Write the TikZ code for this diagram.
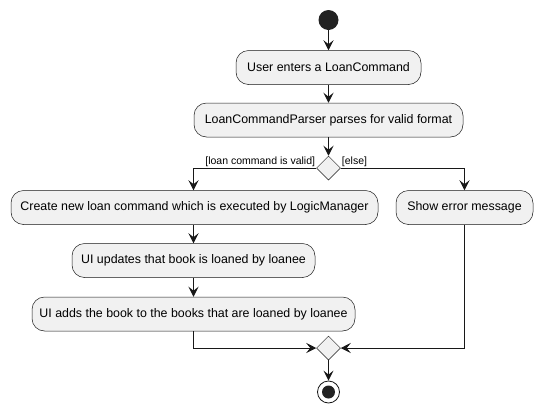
\documentclass[tikz,border=0pt]{standalone}
\usepackage{fontspec}
\setmainfont{Liberation Sans}
\usetikzlibrary{arrows.meta,shapes.geometric,calc}
\definecolor{boxfill}{HTML}{F1F1F1}
\definecolor{ink}{HTML}{181818}
\definecolor{dot}{HTML}{222222}
\begin{document}
\begin{tikzpicture}[x=1pt,y=-1pt,
  act/.style={draw=ink,fill=boxfill,line width=0.5pt,rounded corners=12.5pt,
    minimum height=34pt,inner sep=0pt,font=\fontsize{12.4}{14}\selectfont},
  dec/.style={draw=ink,fill=boxfill,line width=0.5pt,diamond,aspect=1,
    minimum width=24pt,minimum height=24pt,inner sep=0pt},
  flow/.style={draw=ink,line width=1pt,-{Stealth[length=10pt,width=10pt,inset=4pt]}},
  guard/.style={inner sep=0pt,font=\fontsize{10.5}{12}\selectfont}]
\useasboundingbox (0,0) rectangle (542,413);
\fill[white] (0,0) rectangle (542,413);
\node[circle,fill=dot,minimum size=20pt,inner sep=0pt] (start) at (328.5,20) {};
\node[act,minimum width=185pt] (b1) at (328.5,67.5) {User enters a LoanCommand};
\node[act,minimum width=269pt] (b2) at (328.5,120) {LoanCommandParser parses for valid format};
\node[dec] (d1) at (328.5,168) {};
\node[act,minimum width=367pt] (b3) at (194.5,207.5) {Create new loan command which is executed by LogicManager};
\node[act,minimum width=137pt] (err) at (464.5,207.5) {Show error message};
\node[act,minimum width=243pt] (b4) at (193.5,260.5) {UI updates that book is loaned by loanee};
\node[act,minimum width=323pt] (b5) at (193.5,314) {UI adds the book to the books that are loaned by loanee};
\node[dec] (d2) at (328.5,348) {};
\node[circle,draw=ink,fill=white,line width=0.8pt,minimum size=22pt,inner sep=0pt] (end) at (328.5,392) {};
\node[circle,fill=dot,minimum size=13pt,inner sep=0pt] (endin) at (end.center) {};
\node[guard,anchor=south east] (g1) at ($(d1.west)+(-1,-1)$) {[loan command is valid]};
\node[guard,anchor=south west] (g2) at ($(d1.east)+(1,-1)$) {[else]};
\draw[flow] (start) -- (b1);
\draw[flow] (b1) -- (b2);
\draw[flow] (b2) -- (d1);
\draw[flow] (d1.west) -| (b4.center |- b3.north);
\draw[flow] (d1.east) -| (err.north);
\draw[flow] (b3.south -| b4.north) -- (b4.north);
\draw[flow] (b4) -- (b5);
\draw[flow] (b5.south) |- (d2.west);
\draw[flow] (err.south) |- (d2.east);
\draw[flow] (d2) -- (end);
\end{tikzpicture}
\end{document}
